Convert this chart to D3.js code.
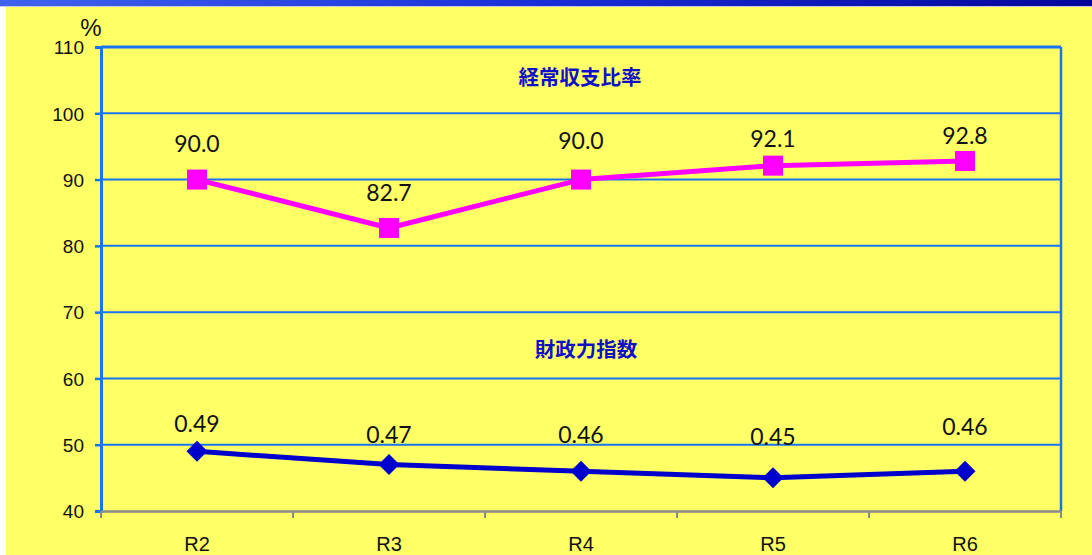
<!DOCTYPE html>
<html>
<head>
<meta charset="utf-8">
<script src="https://cdn.jsdelivr.net/npm/d3@7"></script>
<style>
  html, body { margin: 0; padding: 0; background: #ffffff; }
  svg { display: block; }
</style>
</head>
<body>
<svg id="chart" width="1092" height="555"></svg>
<script>
// Fiscal years on the category axis
const years = ["R2", "R3", "R4", "R5", "R6"];
// 経常収支比率 (%)
const ordinaryBalanceRatio = [90.0, 82.7, 90.0, 92.1, 92.8];
// 財政力指数 (index; drawn on the % axis as index × 100)
const fiscalCapacityIndex = [0.49, 0.47, 0.46, 0.45, 0.46];
// Value axis ticks
const yTicks = [40, 50, 60, 70, 80, 90, 100, 110];

const seriesTitles = ["経常収支比率", "財政力指数"];

const svg = d3.select("#chart");
const W = 1092, H = 555;

// page background: white margin, blue header band, yellow panel
const defs = svg.append("defs");
const grad = defs.append("linearGradient").attr("id", "band").attr("x1", "0").attr("x2", "1");
grad.append("stop").attr("offset", "0").attr("stop-color", "#3f63ee");
grad.append("stop").attr("offset", "0.5").attr("stop-color", "#1a2fd6");
grad.append("stop").attr("offset", "1").attr("stop-color", "#05059a");

svg.append("rect").attr("width", W).attr("height", H).attr("fill", "#ffffff");
svg.append("rect").attr("x", 0).attr("y", 0).attr("width", W).attr("height", 6).attr("fill", "url(#band)");
svg.append("rect").attr("x", 0).attr("y", 6).attr("width", W).attr("height", 1).attr("fill", "#c8c8e0");
svg.append("rect").attr("x", 6).attr("y", 7).attr("width", W - 6).attr("height", H - 7).attr("fill", "#ffff66");

const plot = { left: 101, right: 1061, top: 47, bottom: 511 };

const x = d3.scaleBand().domain(years).range([plot.left, plot.right]);
const y = d3.scaleLinear().domain([40, 110]).range([plot.bottom, plot.top]);
const cx = d => x(d) + x.bandwidth() / 2;

const gridBlue = "#1a73f0";

// horizontal gridlines
svg.append("g").selectAll("line").data(yTicks.filter(t => t > 40)).join("line")
  .attr("x1", plot.left).attr("x2", plot.right)
  .attr("y1", d => y(d)).attr("y2", d => y(d))
  .attr("stroke", gridBlue).attr("stroke-width", d => d === 110 ? 3 : 2);

// right frame edge
svg.append("line")
  .attr("x1", plot.right).attr("x2", plot.right)
  .attr("y1", plot.top).attr("y2", plot.bottom)
  .attr("stroke", gridBlue).attr("stroke-width", 2.5);

// left value axis
const yAxis = svg.append("g")
  .attr("transform", `translate(${plot.left},0)`)
  .call(d3.axisLeft(y).tickValues(yTicks).tickSize(6).tickPadding(11));
yAxis.select(".domain").attr("stroke", gridBlue).attr("stroke-width", 3);
yAxis.selectAll(".tick line").attr("stroke", gridBlue).attr("stroke-width", 2.5);
yAxis.selectAll(".tick text")
  .attr("font-family", "'Liberation Sans', Arial, sans-serif")
  .attr("font-size", 19).attr("fill", "#111").attr("dy", "0.36em");

// bottom category axis with ticks between categories
const xAxis = svg.append("g")
  .attr("transform", `translate(0,${plot.bottom})`)
  .call(d3.axisBottom(x).tickSize(0).tickPadding(26));
xAxis.select(".domain").attr("stroke", "#8a8a8a").attr("stroke-width", 2.5);
xAxis.selectAll(".tick text")
  .attr("font-family", "'Liberation Sans', Arial, sans-serif")
  .attr("font-size", 20).attr("fill", "#111");
const bounds = years.map(d => x(d)).concat([plot.right]);
xAxis.selectAll("line.sep").data(bounds).join("line").attr("class", "sep")
  .attr("x1", d => d).attr("x2", d => d).attr("y1", 0).attr("y2", 7)
  .attr("stroke", "#8a8a8a").attr("stroke-width", 2);

// unit label
svg.append("text").attr("x", 91).attr("y", 36).attr("text-anchor", "middle")
  .attr("font-family", "'Liberation Sans', Arial, sans-serif").attr("font-size", 24)
  .attr("fill", "#111").text("%");

// series titles
const titleFont = "'Noto Sans CJK JP', 'Noto Sans CJK SC', sans-serif";
svg.append("text").attr("x", 580).attr("y", 85).attr("text-anchor", "middle")
  .attr("font-family", titleFont).attr("font-weight", "bold").attr("font-size", 20.5)
  .attr("fill", "#1010c8").text(seriesTitles[0]);
svg.append("text").attr("x", 586).attr("y", 357).attr("text-anchor", "middle")
  .attr("font-family", titleFont).attr("font-weight", "bold").attr("font-size", 20.5)
  .attr("fill", "#1010c8").text(seriesTitles[1]);

const line = d3.line().x(d => cx(d.year)).y(d => y(d.v));

// 経常収支比率: magenta line with square markers
const ratioPts = years.map((yr, i) => ({ year: yr, v: ordinaryBalanceRatio[i], label: ordinaryBalanceRatio[i].toFixed(1) }));
svg.append("path").datum(ratioPts).attr("d", line)
  .attr("fill", "none").attr("stroke", "#ff00ff").attr("stroke-width", 5).attr("stroke-linejoin", "round");
svg.append("g").selectAll("rect").data(ratioPts).join("rect")
  .attr("x", d => cx(d.year) - 10).attr("y", d => y(d.v) - 10)
  .attr("width", 20).attr("height", 20).attr("fill", "#ff00ff");

// 財政力指数: blue line with diamond markers
const indexPts = years.map((yr, i) => ({ year: yr, v: fiscalCapacityIndex[i] * 100, label: fiscalCapacityIndex[i].toFixed(2) }));
svg.append("path").datum(indexPts).attr("d", line)
  .attr("fill", "none").attr("stroke", "#0000cc").attr("stroke-width", 5).attr("stroke-linejoin", "round");
svg.append("g").selectAll("path").data(indexPts).join("path")
  .attr("d", d => { const px = cx(d.year), py = y(d.v);
    return `M${px},${py - 10.5}L${px + 10.5},${py}L${px},${py + 10.5}L${px - 10.5},${py}Z`; })
  .attr("fill", "#0000cc");

// value labels, lifted above each marker
const ratioLift = [28, 27, 31, 19, 17];
const indexLift = [19, 22, 28, 33, 36];
const labelFont = "Lato, 'Open Sans', sans-serif";
svg.append("g").selectAll("text").data(ratioPts).join("text")
  .attr("x", d => cx(d.year)).attr("y", (d, i) => y(d.v) - ratioLift[i])
  .attr("text-anchor", "middle").attr("font-family", labelFont).attr("font-size", 23)
  .attr("fill", "#111").text(d => d.label);
svg.append("g").selectAll("text").data(indexPts).join("text")
  .attr("x", d => cx(d.year)).attr("y", (d, i) => y(d.v) - indexLift[i])
  .attr("text-anchor", "middle").attr("font-family", labelFont).attr("font-size", 23)
  .attr("fill", "#111").text(d => d.label);
</script>
</body>
</html>
